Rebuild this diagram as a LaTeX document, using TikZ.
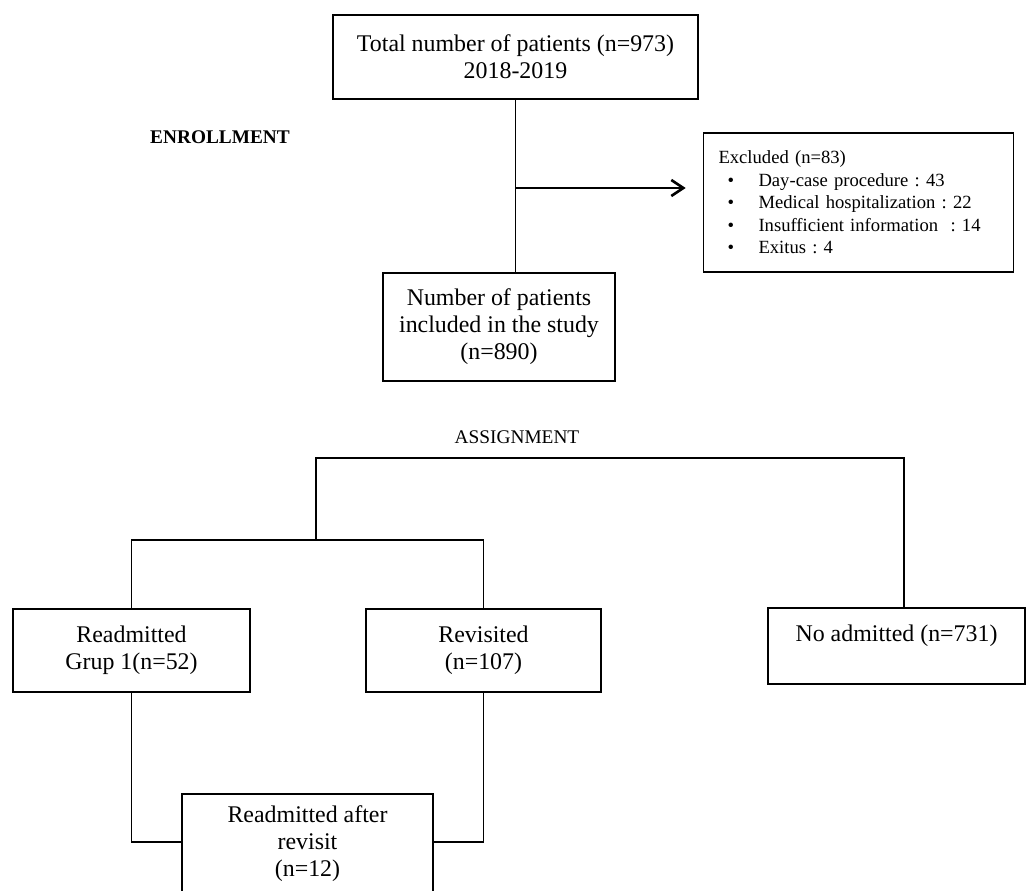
\documentclass[tikz,border=0pt]{standalone}
\usepackage{fontspec}
\setmainfont{Liberation Serif}
\usetikzlibrary{positioning,arrows.meta}
\tikzset{
  box/.style={draw, line width=1pt, align=center, inner sep=2pt, font=\fontsize{13.6}{15.3}\selectfont},
  edge/.style={black, line width=1pt},
  edgearr/.style={black, line width=1.5pt, -{Straight Barb[length=2.4mm, width=3.2mm]}, shorten >=0.34cm},
  heading/.style={font=\fontsize{11}{13}\selectfont}
}
\newcommand\bul{\hspace*{0.18cm}\makebox[0.62cm][l]{\textbullet}}
\frenchspacing

\begin{document}
\begin{tikzpicture}[x=0.02cm, y=-0.02cm]
\clip (0,0) rectangle (1027,891);
\node[box, minimum width=7.3cm, minimum height=1.68cm] (a) at (515.5,57) {Total number of patients (n=973)\\2018-2019};
\node[box, align=left, text width=5.6cm, minimum height=2.78cm, inner xsep=0.3cm,
  font=\fontsize{10.6}{12.8}\selectfont] (b) at (858.5,202.5)
  {Excluded (n=83)\\\bul Day-case procedure : 43\\\bul Medical hospitalization : 22\\\bul Insufficient information\ \ : 14\\\bul Exitus : 4};
\node[box, minimum width=4.64cm, minimum height=2.16cm] (c) at (499,327) {Number of patients\\included in the study\\(n=890)};
\node[heading, font=\bfseries\fontsize{11}{13}\selectfont] (enr) at (220,137) {ENROLLMENT};
\node[heading] (asg) at (517,437) {ASSIGNMENT};
\node[box, minimum width=4.74cm, minimum height=1.66cm] (d) at (131.5,650.5) {Readmitted\\Grup 1(n=52)};
\node[box, minimum width=4.7cm, minimum height=1.66cm] (f) at (483.5,650.5) {Revisited\\(n=107)};
\node[box, minimum width=5.14cm, minimum height=1.52cm, text depth=0.5cm] (e) at (896.5,646) {No admitted (n=731)};
\node[box, anchor=north, minimum width=5.02cm, inner ysep=0.24cm, text depth=0.45cm] (g) at (307.5,793) {Readmitted after\\revisit\\(n=12)};

\coordinate (m) at (515.5,188);
\coordinate (h1) at (316,458);
\coordinate (h2) at (904,458);
\coordinate (k) at (316,540);

\draw[edge] (a.south) -- (a.south |- c.north);
\draw[edgearr] (m) -- (m -| b.west);
\draw[edge] (k) -- (h1) -- (h2) -- (h2 |- e.north);
\draw[edge] (d.north) |- (k) -| (f.north);
\draw[edge] (d.south) |- (g.north west |- 0,842);
\draw[edge] (f.south) |- (g.north east |- 0,842);
\end{tikzpicture}
\end{document}
